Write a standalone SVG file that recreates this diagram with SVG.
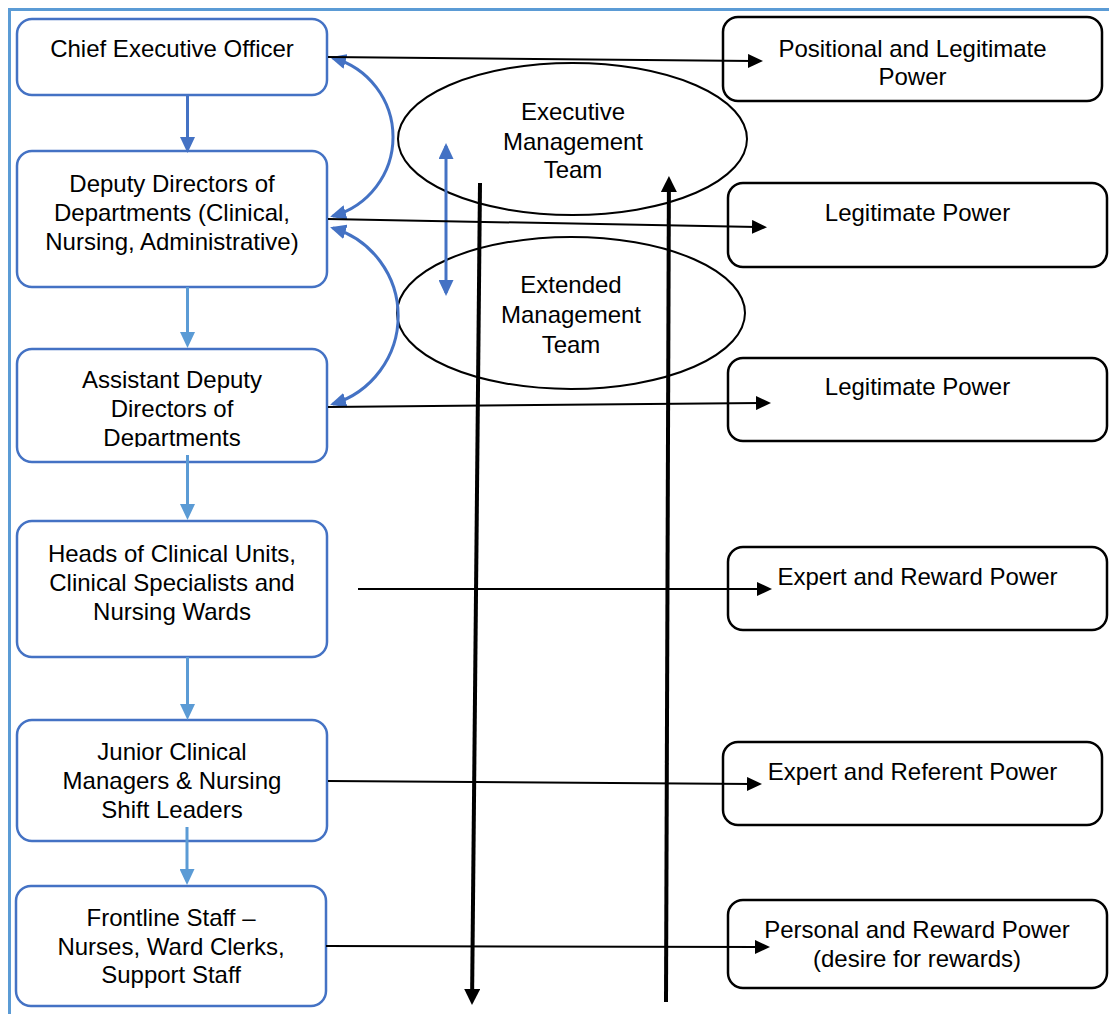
<svg xmlns="http://www.w3.org/2000/svg" width="1109" height="1014" viewBox="0 0 1109 1014">
  <style>
    .frame { fill: none; stroke: #5B9BD5; stroke-width: 3; }
    .lvl { fill: #FFFFFF; stroke: #4472C4; stroke-width: 2.5; }
    .pow { fill: #FFFFFF; stroke: #000000; stroke-width: 2.5; }
    .team { fill: none; stroke: #000000; stroke-width: 2; }
    text { font-family: "Liberation Sans", Arial, sans-serif; font-size: 24px; fill: #000000; text-anchor: middle; }
    .down-dark { stroke: #4472C4; stroke-width: 3; fill: none; }
    .down-light { stroke: #5B9BD5; stroke-width: 3; fill: none; }
    .loop { stroke: #4472C4; stroke-width: 3; fill: none; }
    .link { stroke: #000000; stroke-width: 2; fill: none; }
    .flow { stroke: #000000; stroke-width: 4; fill: none; }
  </style>
  <defs>
    <marker id="headBlack" markerUnits="userSpaceOnUse" viewBox="0 0 15 14" markerWidth="15" markerHeight="14" refX="5" refY="7" orient="auto">
      <path d="M0,0 L15,7 L0,14 Z" fill="#000000"/>
    </marker>
    <marker id="headBold" markerUnits="userSpaceOnUse" viewBox="0 0 16 16" markerWidth="16" markerHeight="16" refX="6" refY="8" orient="auto">
      <path d="M0,0 L16,8 L0,16 Z" fill="#000000"/>
    </marker>
    <marker id="headDark" markerUnits="userSpaceOnUse" viewBox="0 0 16 15" markerWidth="16" markerHeight="15" refX="6" refY="7.5" orient="auto-start-reverse">
      <path d="M0,0 L16,7.5 L0,15 Z" fill="#4472C4"/>
    </marker>
    <marker id="headLight" markerUnits="userSpaceOnUse" viewBox="0 0 16 15" markerWidth="16" markerHeight="15" refX="6" refY="7.5" orient="auto">
      <path d="M0,0 L16,7.5 L0,15 Z" fill="#5B9BD5"/>
    </marker>
    <marker id="headLoop" markerUnits="userSpaceOnUse" viewBox="0 0 16 15" markerWidth="16" markerHeight="15" refX="13" refY="7.5" orient="auto-start-reverse">
      <path d="M0,0 L16,7.5 L0,15 Z" fill="#4472C4"/>
    </marker>
    <clipPath id="cutAssistant">
      <rect x="17" y="349" width="310" height="98"/>
    </clipPath>
  </defs>

  <!-- page frame: top and left rules -->
  <path class="frame" d="M8,9.5 H1109 M9.5,8 V1014"/>

  <!-- team ellipses -->
  <g id="executive-team">
    <ellipse class="team" cx="572.5" cy="139" rx="174.5" ry="76"/>
    <text x="573" y="120">Executive</text>
    <text x="573" y="150">Management</text>
    <text x="573" y="178">Team</text>
  </g>
  <g id="extended-team">
    <ellipse class="team" cx="571" cy="313" rx="174" ry="76"/>
    <text x="571" y="293">Extended</text>
    <text x="571" y="323">Management</text>
    <text x="571" y="353">Team</text>
  </g>

  <!-- hierarchy levels -->
  <g id="ceo">
    <rect class="lvl" x="17" y="19" width="310" height="76" rx="15"/>
    <text x="172" y="57">Chief Executive Officer</text>
  </g>
  <g id="deputy-directors">
    <rect class="lvl" x="17" y="151" width="310" height="136" rx="15"/>
    <text x="172" y="192">Deputy Directors of</text>
    <text x="172" y="221">Departments (Clinical,</text>
    <text x="172" y="250">Nursing, Administrative)</text>
  </g>
  <g id="assistant-deputy-directors">
    <rect class="lvl" x="17" y="349" width="310" height="113" rx="15"/>
    <g clip-path="url(#cutAssistant)">
      <text x="172" y="388">Assistant Deputy</text>
      <text x="172" y="417">Directors of</text>
      <text x="172" y="446">Departments</text>
    </g>
  </g>
  <g id="heads-of-units">
    <rect class="lvl" x="17" y="521" width="310" height="136" rx="15"/>
    <text x="172" y="562">Heads of Clinical Units,</text>
    <text x="172" y="591">Clinical Specialists and</text>
    <text x="172" y="620">Nursing Wards</text>
  </g>
  <g id="junior-managers">
    <rect class="lvl" x="17" y="720" width="310" height="121" rx="15"/>
    <text x="172" y="760">Junior Clinical</text>
    <text x="172" y="789">Managers &amp; Nursing</text>
    <text x="172" y="818">Shift Leaders</text>
  </g>
  <g id="frontline-staff">
    <rect class="lvl" x="16" y="886" width="310" height="120" rx="15"/>
    <text x="171" y="926">Frontline Staff –</text>
    <text x="171" y="955">Nurses, Ward Clerks,</text>
    <text x="171" y="983">Support Staff</text>
  </g>

  <!-- power types -->
  <g id="power-positional">
    <rect class="pow" x="723" y="17" width="379" height="84" rx="15"/>
    <text x="912.5" y="57">Positional and Legitimate</text>
    <text x="912.5" y="85">Power</text>
  </g>
  <g id="power-legitimate-1">
    <rect class="pow" x="728" y="183" width="379" height="84" rx="15"/>
    <text x="917.5" y="221">Legitimate Power</text>
  </g>
  <g id="power-legitimate-2">
    <rect class="pow" x="728" y="358" width="379" height="83" rx="15"/>
    <text x="917.5" y="395">Legitimate Power</text>
  </g>
  <g id="power-expert-reward">
    <rect class="pow" x="728" y="547" width="379" height="83" rx="15"/>
    <text x="917.5" y="585">Expert and Reward Power</text>
  </g>
  <g id="power-expert-referent">
    <rect class="pow" x="723" y="742" width="379" height="83" rx="15"/>
    <text x="912.5" y="780">Expert and Referent Power</text>
  </g>
  <g id="power-personal-reward">
    <rect class="pow" x="728" y="900" width="379" height="88" rx="15"/>
    <text x="917" y="938">Personal and Reward Power</text>
    <text x="917" y="967">(desire for rewards)</text>
  </g>

  <!-- connectors -->
  <g id="connectors">
    <!-- chain of command -->
    <line class="down-dark" x1="187.5" y1="95" x2="187.5" y2="143" marker-end="url(#headDark)"/>
    <line class="down-light" x1="187.5" y1="287" x2="187.5" y2="338" marker-end="url(#headLight)"/>
    <line class="down-light" x1="187.5" y1="455" x2="187.5" y2="510" marker-end="url(#headLight)"/>
    <line class="down-light" x1="187.5" y1="657" x2="187.5" y2="710" marker-end="url(#headLight)"/>
    <line class="down-light" x1="187" y1="827" x2="187" y2="875" marker-end="url(#headLight)"/>

    <!-- two-way loops between senior levels -->
    <path class="loop" d="M333,58 A82,82 0 0 1 333,216" marker-start="url(#headLoop)" marker-end="url(#headLoop)"/>
    <path class="loop" d="M333,228 A92,92 0 0 1 333,404" marker-start="url(#headLoop)" marker-end="url(#headLoop)"/>

    <!-- link between the two teams -->
    <line class="loop" x1="446" y1="146" x2="446" y2="293" marker-start="url(#headLoop)" marker-end="url(#headLoop)"/>

    <!-- level to power type -->
    <line class="link" x1="328" y1="57" x2="753" y2="61" marker-end="url(#headBlack)"/>
    <line class="link" x1="328" y1="219" x2="757" y2="227" marker-end="url(#headBlack)"/>
    <line class="link" x1="328" y1="407" x2="761" y2="403" marker-end="url(#headBlack)"/>
    <line class="link" x1="358" y1="589" x2="762" y2="589" marker-end="url(#headBlack)"/>
    <line class="link" x1="328" y1="781" x2="752" y2="784" marker-end="url(#headBlack)"/>
    <line class="link" x1="326" y1="946" x2="760" y2="947" marker-end="url(#headBlack)"/>

    <!-- top-down and bottom-up flows -->
    <line class="flow" x1="480" y1="183" x2="472.1" y2="995" marker-end="url(#headBold)"/>
    <line class="flow" x1="666" y1="1002" x2="668.9" y2="186" marker-end="url(#headBold)"/>
  </g>
</svg>
